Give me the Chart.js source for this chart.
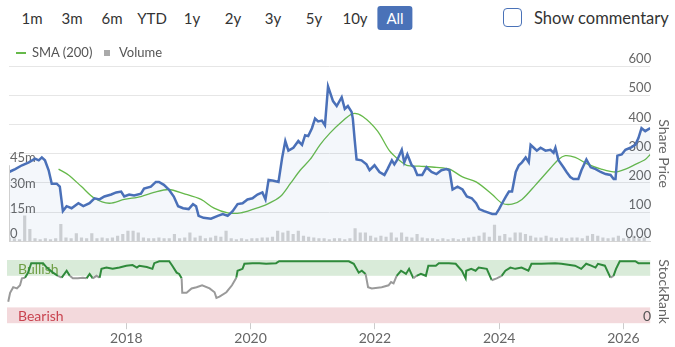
<!DOCTYPE html>
<html>
<head>
<meta charset="utf-8">
<script src="https://cdn.jsdelivr.net/npm/chart.js@4.4.1/dist/chart.umd.min.js"></script>
<style>
html, body { margin: 0; padding: 0; background: #fff; overflow: hidden; }
body { width: 675px; height: 347px; position: relative; font-family: Lato, "Open Sans", sans-serif; }
.range { position: absolute; top: 6px; height: 24px; line-height: 24px; font-size: 15px; color: #333; transform: translateX(-50%); }
.range.active { background: #4a72b8; color: #fff; border-radius: 3px; padding: 0 9px; }
.check { position: absolute; left: 503px; top: 8px; width: 17px; height: 17px; border: 1.5px solid #4a72b8; border-radius: 4px; }
.check-label { position: absolute; left: 534px; top: 6px; line-height: 24px; font-size: 16.5px; color: #333; }
.legend { position: absolute; top: 44px; left: 0; height: 16px; font-size: 13px; color: #555; }
.legend .item { position: absolute; top: 0; line-height: 16px; white-space: nowrap; }
.legend .sw-line { position: absolute; top: 8px; width: 10px; height: 1.5px; background: #66b94a; }
.legend .sw-box { position: absolute; top: 6px; width: 6px; height: 6px; background: #aaa; }
#main { position: absolute; left: 0; top: 44px; }
#rank { position: absolute; left: 0; top: 250px; }
</style>
</head>
<body>
<div class="range" style="left:32px">1m</div>
<div class="range" style="left:72px">3m</div>
<div class="range" style="left:112px">6m</div>
<div class="range" style="left:152px">YTD</div>
<div class="range" style="left:192px">1y</div>
<div class="range" style="left:233px">2y</div>
<div class="range" style="left:273px">3y</div>
<div class="range" style="left:314px">5y</div>
<div class="range" style="left:355px">10y</div>
<div class="range active" style="left:395px">All</div>
<div class="check"></div>
<div class="check-label">Show commentary</div>

<canvas id="main" width="675" height="206"></canvas>
<canvas id="rank" width="675" height="98"></canvas>

<div class="legend">
  <span class="sw-line" style="left:16px"></span>
  <span class="item" style="left:32px">SMA (200)</span>
  <span class="sw-box" style="left:104px"></span>
  <span class="item" style="left:119px">Volume</span>
</div>

<script>
// --- data (dates as decimal years) ---
const priceDates = [
  2016.08, 2016.18, 2016.29, 2016.40, 2016.50, 2016.56, 2016.61, 2016.66, 2016.72, 2016.77,
  2016.85, 2016.90, 2016.95, 2017.01, 2017.09, 2017.20, 2017.28, 2017.38, 2017.46, 2017.54,
  2017.62, 2017.73, 2017.81, 2017.89, 2017.94, 2018.02, 2018.10, 2018.21, 2018.26, 2018.37,
  2018.45, 2018.50, 2018.58, 2018.66, 2018.74, 2018.81, 2018.89, 2018.98, 2019.05, 2019.10,
  2019.14, 2019.22, 2019.34, 2019.45, 2019.53, 2019.61, 2019.69, 2019.77, 2019.85, 2019.93,
  2020.01, 2020.09, 2020.17, 2020.22, 2020.27, 2020.35, 2020.43, 2020.49, 2020.54, 2020.59,
  2020.67, 2020.75, 2020.81, 2020.86, 2020.91, 2020.97, 2021.02, 2021.07, 2021.13, 2021.18,
  2021.23, 2021.31, 2021.37, 2021.45, 2021.50, 2021.55, 2021.61, 2021.63, 2021.66, 2021.69,
  2021.77, 2021.85, 2021.90, 2021.98, 2022.06, 2022.14, 2022.19, 2022.26, 2022.30, 2022.35,
  2022.42, 2022.46, 2022.51, 2022.58, 2022.62, 2022.67, 2022.75, 2022.82, 2022.90, 2022.98,
  2023.06, 2023.14, 2023.19, 2023.24, 2023.32, 2023.40, 2023.47, 2023.55, 2023.62, 2023.67,
  2023.75, 2023.83, 2023.88, 2023.94, 2023.99, 2024.04, 2024.10, 2024.15, 2024.20, 2024.26,
  2024.31, 2024.36, 2024.42, 2024.47, 2024.50, 2024.55, 2024.60, 2024.66, 2024.74, 2024.82,
  2024.87, 2024.90, 2024.95, 2025.03, 2025.08, 2025.14, 2025.19, 2025.27, 2025.32, 2025.40,
  2025.47, 2025.55, 2025.63, 2025.71, 2025.79, 2025.84, 2025.87, 2025.90, 2025.97, 2026.03,
  2026.11, 2026.19, 2026.24, 2026.29, 2026.35, 2026.43
];
const priceValues = [
  237, 247, 260, 270, 283, 277, 287, 277, 243, 197,
  197, 187, 103, 120, 113, 130, 120, 130, 147, 143,
  153, 160, 167, 170, 153, 160, 157, 163, 180, 187,
  203, 203, 193, 177, 153, 120, 113, 110, 127, 120,
  87, 80, 77, 87, 93, 87, 103, 127, 130, 143,
  147, 160, 167, 143, 210, 207, 203, 287, 343, 310,
  320, 343, 330, 363, 360, 387, 420, 410, 413, 397,
  530, 480, 463, 493, 453, 463, 443, 420, 347, 280,
  277, 263, 243, 260, 237, 227, 247, 277, 263, 280,
  313, 270, 297, 260, 253, 227, 227, 253, 237, 230,
  243, 247, 243, 177, 187, 177, 153, 147, 130, 110,
  103, 97, 93, 93, 110, 130, 153, 170, 170, 237,
  260, 270, 287, 270, 330, 320, 310, 320, 310, 313,
  303, 320, 277, 253, 237, 220, 213, 213, 243, 280,
  253, 247, 237, 230, 227, 213, 213, 293, 297, 313,
  320, 330, 353, 387, 377, 387
];

const smaDates = [
  2016.88, 2017.04, 2017.25, 2017.46, 2017.70, 2017.94, 2018.21, 2018.42, 2018.66, 2018.90,
  2019.18, 2019.39, 2019.61, 2019.82, 2020.03, 2020.25, 2020.46, 2020.62, 2020.78, 2020.94,
  2021.10, 2021.26, 2021.42, 2021.63, 2021.79, 2022.03, 2022.22, 2022.38, 2022.50, 2022.70,
  2022.98, 2023.19, 2023.40, 2023.62, 2023.88, 2024.04, 2024.20, 2024.36, 2024.58, 2024.79,
  2024.95, 2025.06, 2025.22, 2025.43, 2025.64, 2025.87, 2026.03, 2026.19, 2026.35, 2026.43
];
const smaValues = [
  247, 227, 187, 147, 130, 143, 153, 167, 177, 163,
  143, 113, 97, 97, 110, 127, 153, 197, 243, 280,
  330, 370, 403, 437, 427, 377, 310, 277, 260, 257,
  253, 247, 220, 203, 160, 130, 127, 143, 193, 243,
  280, 293, 287, 263, 247, 237, 247, 263, 280, 297
];

// monthly volume (millions), Feb 2016 onwards
const volumeStartMonth = 1; // February 2016
const volumeValues = [
  2, 1.5, 1, 15, 7, 1.5, 1, 1.5, 1, 1.5,
  10, 2, 1.5, 4.5, 2, 1.5, 4.5, 1.5, 2, 1.5,
  2, 3, 4, 6, 6, 5, 2, 1.5, 1.5, 2,
  1.5, 1.5, 4, 1.5, 2, 5, 2, 3, 1.5, 2,
  3, 2.5, 6, 1.5, 1, 1.5, 1, 1.5, 1.5, 2,
  2, 2.5, 6, 5, 6, 4, 6, 3, 2.5, 2,
  1.5, 1.5, 1, 1.5, 1.5, 1, 1.5, 7.5, 5, 5,
  3, 2, 3, 2.5, 5, 2, 5, 2.5, 2, 4,
  2, 1.5, 1.5, 1, 1.5, 1, 1.5, 1, 1.5, 2,
  2.5, 3, 5, 2.5, 9.5, 3, 4, 2, 5, 5,
  4, 3, 2, 2, 3, 2, 1.5, 2, 1.5, 2,
  2, 1.5, 3, 4, 3, 2, 1.5, 2, 3, 1.5,
  2, 3, 1.5, 2
];

const rankDates = [
  2016.10, 2016.13, 2016.18, 2016.24, 2016.29, 2016.32, 2016.37, 2016.42, 2016.47, 2016.56,
  2016.66, 2016.72, 2016.82, 2016.90, 2016.96, 2017.04, 2017.09, 2017.14, 2017.22, 2017.30,
  2017.36, 2017.41, 2017.46, 2017.52, 2017.57, 2017.60, 2017.68, 2017.78, 2017.89, 2018.00,
  2018.10, 2018.17, 2018.21, 2018.33, 2018.42, 2018.45, 2018.53, 2018.69, 2018.74, 2018.81,
  2018.85, 2018.89, 2018.90, 2018.97, 2019.05, 2019.13, 2019.22, 2019.34, 2019.42, 2019.45,
  2019.50, 2019.61, 2019.70, 2019.77, 2019.79, 2019.87, 2019.90, 2020.03, 2020.14, 2020.25,
  2020.41, 2020.46, 2020.78, 2021.42, 2021.58, 2021.66, 2021.74, 2021.79, 2021.85, 2021.89,
  2021.95, 2022.11, 2022.22, 2022.26, 2022.30, 2022.35, 2022.42, 2022.50, 2022.55, 2022.62,
  2022.67, 2022.74, 2022.82, 2022.86, 2022.98, 2023.03, 2023.19, 2023.30, 2023.40, 2023.46,
  2023.47, 2023.55, 2023.62, 2023.67, 2023.80, 2023.88, 2023.96, 2024.04, 2024.10, 2024.18,
  2024.26, 2024.36, 2024.47, 2024.52, 2024.68, 2024.90, 2025.00, 2025.22, 2025.32, 2025.40,
  2025.48, 2025.55, 2025.59, 2025.70, 2025.79, 2025.84, 2025.88, 2025.94, 2026.19, 2026.24,
  2026.43
];
const rankValues = [
  34, 48, 57, 55, 60, 71, 72, 80, 95, 95,
  95, 88, 80, 75, 72, 83, 75, 71, 71, 72,
  71, 78, 71, 75, 72, 86, 88, 86, 88, 91,
  92, 88, 91, 89, 86, 95, 98, 98, 91, 80,
  78, 71, 48, 48, 55, 57, 60, 55, 49, 40,
  42, 49, 60, 72, 83, 86, 94, 95, 95, 94,
  95, 98, 98, 98, 98, 94, 80, 83, 78, 57,
  55, 57, 60, 65, 63, 75, 83, 78, 86, 71,
  75, 78, 75, 91, 91, 95, 95, 94, 83, 71,
  83, 86, 83, 88, 86, 68, 71, 75, 83, 88,
  86, 88, 83, 94, 94, 95, 94, 91, 86, 94,
  91, 88, 94, 91, 72, 75, 86, 98, 98, 95,
  95
];

const priceTicks = [0, 100, 200, 300, 400, 500, 600];
const volumeTicks = [0, 15, 30, 45];
const yearTicks = [2018, 2020, 2022, 2024, 2026];
const rankTicks = [0];
const bullishBand = [75, 100];
const bearishBand = [0, 25];

// --- shared settings ---
const X_MIN = 2016.08, X_MAX = 2026.43;
const GREEN = '#2f8a3b', GREY = '#9a9a9a';
Chart.defaults.font.family = 'Lato, "Open Sans", sans-serif';
Chart.defaults.color = '#666';
Chart.defaults.animation = false;

const pts = (xs, ys) => xs.map((x, i) => ({ x: x, y: ys[i] }));

// thin axis line for the volume scale (0 .. 45m)
const volAxisLine = {
  id: 'volAxisLine',
  afterDatasetsDraw(chart) {
    const { ctx, chartArea, scales } = chart;
    const v = scales.yVol;
    ctx.save();
    ctx.strokeStyle = '#cfcfcf';
    ctx.lineWidth = 1;
    ctx.beginPath();
    ctx.moveTo(chartArea.left + 0.5, v.getPixelForValue(volumeTicks[volumeTicks.length - 1]));
    ctx.lineTo(chartArea.left + 0.5, v.getPixelForValue(0));
    ctx.stroke();
    ctx.restore();
  }
};

const mainChart = new Chart(document.getElementById('main'), {
  type: 'line',
  data: {
    datasets: [
      {
        label: 'Price',
        data: pts(priceDates, priceValues),
        yAxisID: 'y',
        borderColor: '#4a70b8',
        borderWidth: 2.5,
        pointRadius: 0,
        tension: 0,
        fill: 'start',
        backgroundColor: 'rgba(74,112,184,0.06)',
        order: 0
      },
      {
        label: 'SMA (200)',
        data: pts(smaDates, smaValues),
        yAxisID: 'y',
        borderColor: '#66b94a',
        borderWidth: 1.3,
        pointRadius: 0,
        tension: 0.3,
        fill: false,
        order: 1
      },
      {
        type: 'bar',
        label: 'Volume',
        data: volumeValues.map((v, i) => ({ x: 2016 + (volumeStartMonth + i) / 12, y: v })),
        yAxisID: 'yVol',
        backgroundColor: 'rgba(150,150,150,0.42)',
        barThickness: 2.5,
        order: 2
      }
    ]
  },
  options: {
    responsive: false,
    layout: { padding: { left: 7, top: 22, right: 0, bottom: 4 } },
    plugins: { legend: { display: false }, tooltip: { enabled: false } },
    scales: {
      x: {
        type: 'linear', min: X_MIN, max: X_MAX, offset: false,
        ticks: { display: false },
        grid: { display: false, drawTicks: false, offset: false },
        border: { display: true, color: '#d6d6d6' }
      },
      y: {
        position: 'right', min: 0, max: 600,
        afterBuildTicks: s => { s.ticks = priceTicks.map(v => ({ value: v })); },
        ticks: {
          mirror: true, padding: 1, labelOffset: -7,
          color: '#666', font: { size: 13 },
          callback: v => v === 0 ? '0.00' : String(v)
        },
        grid: { color: '#e6e6e6', drawTicks: false },
        border: { display: false },
        title: { display: true, text: 'Share Price', color: '#666', font: { size: 14 }, padding: 3 }
      },
      yVol: {
        position: 'left', min: 0, max: 103.8,
        afterBuildTicks: s => { s.ticks = volumeTicks.map(v => ({ value: v })); },
        ticks: {
          mirror: true, padding: 1, labelOffset: -7,
          color: '#666', font: { size: 13 },
          callback: v => v === 0 ? '0' : v + 'm'
        },
        grid: { display: false, drawTicks: false },
        border: { display: false }
      }
    }
  },
  plugins: [volAxisLine]
});

// bullish / bearish bands behind the StockRank line
const rankBands = {
  id: 'rankBands',
  beforeDatasetsDraw(chart) {
    const { ctx, chartArea: a, scales: { y } } = chart;
    const gTop = y.getPixelForValue(bullishBand[1]), gBot = y.getPixelForValue(bullishBand[0]);
    const rTop = y.getPixelForValue(bearishBand[1]), rBot = y.getPixelForValue(bearishBand[0]);
    ctx.save();
    ctx.fillStyle = '#d9ebd9';
    ctx.fillRect(a.left, gTop, a.right - a.left, gBot - gTop);
    ctx.fillStyle = '#f3d9dc';
    ctx.fillRect(a.left, rTop, a.right - a.left, rBot - rTop);
    ctx.font = '14px Lato, "Open Sans", sans-serif';
    ctx.textBaseline = 'alphabetic';
    ctx.fillStyle = '#6f9f45';
    ctx.fillText('Bullish', a.left + 11, gBot - 2);
    ctx.fillStyle = '#c94450';
    ctx.fillText('Bearish', a.left + 11, rBot - 2);
    ctx.restore();
  }
};

const rankChart = new Chart(document.getElementById('rank'), {
  type: 'line',
  data: {
    datasets: [{
      label: 'StockRank',
      data: pts(rankDates, rankValues),
      borderWidth: 2,
      pointRadius: 0,
      tension: 0,
      borderColor: GREEN,
      segment: {
        borderColor: c => ((c.p0.parsed.y + c.p1.parsed.y) / 2 >= bullishBand[0] - 1 ? GREEN : GREY)
      }
    }]
  },
  options: {
    responsive: false,
    layout: { padding: { left: 7, top: 10, right: 0, bottom: 0 } },
    plugins: { legend: { display: false }, tooltip: { enabled: false } },
    scales: {
      x: {
        type: 'linear', min: X_MIN, max: X_MAX,
        afterBuildTicks: s => { s.ticks = yearTicks.map(v => ({ value: v })); },
        ticks: { color: '#666', font: { size: 14 }, padding: 1, maxRotation: 0, callback: v => String(v) },
        grid: { drawOnChartArea: false, drawTicks: true, tickLength: 6, color: '#cccccc' },
        border: { display: false }
      },
      y: {
        position: 'right', min: 0, max: 100,
        afterBuildTicks: s => { s.ticks = rankTicks.map(v => ({ value: v })); },
        ticks: { z: 1, mirror: true, padding: 1, labelOffset: -7, color: '#555', font: { size: 14 } },
        grid: { display: false, drawTicks: false },
        border: { display: false },
        title: { display: true, text: 'StockRank', color: '#666', font: { size: 14 }, padding: 3 }
      }
    }
  },
  plugins: [rankBands]
});
</script>
</body>
</html>
